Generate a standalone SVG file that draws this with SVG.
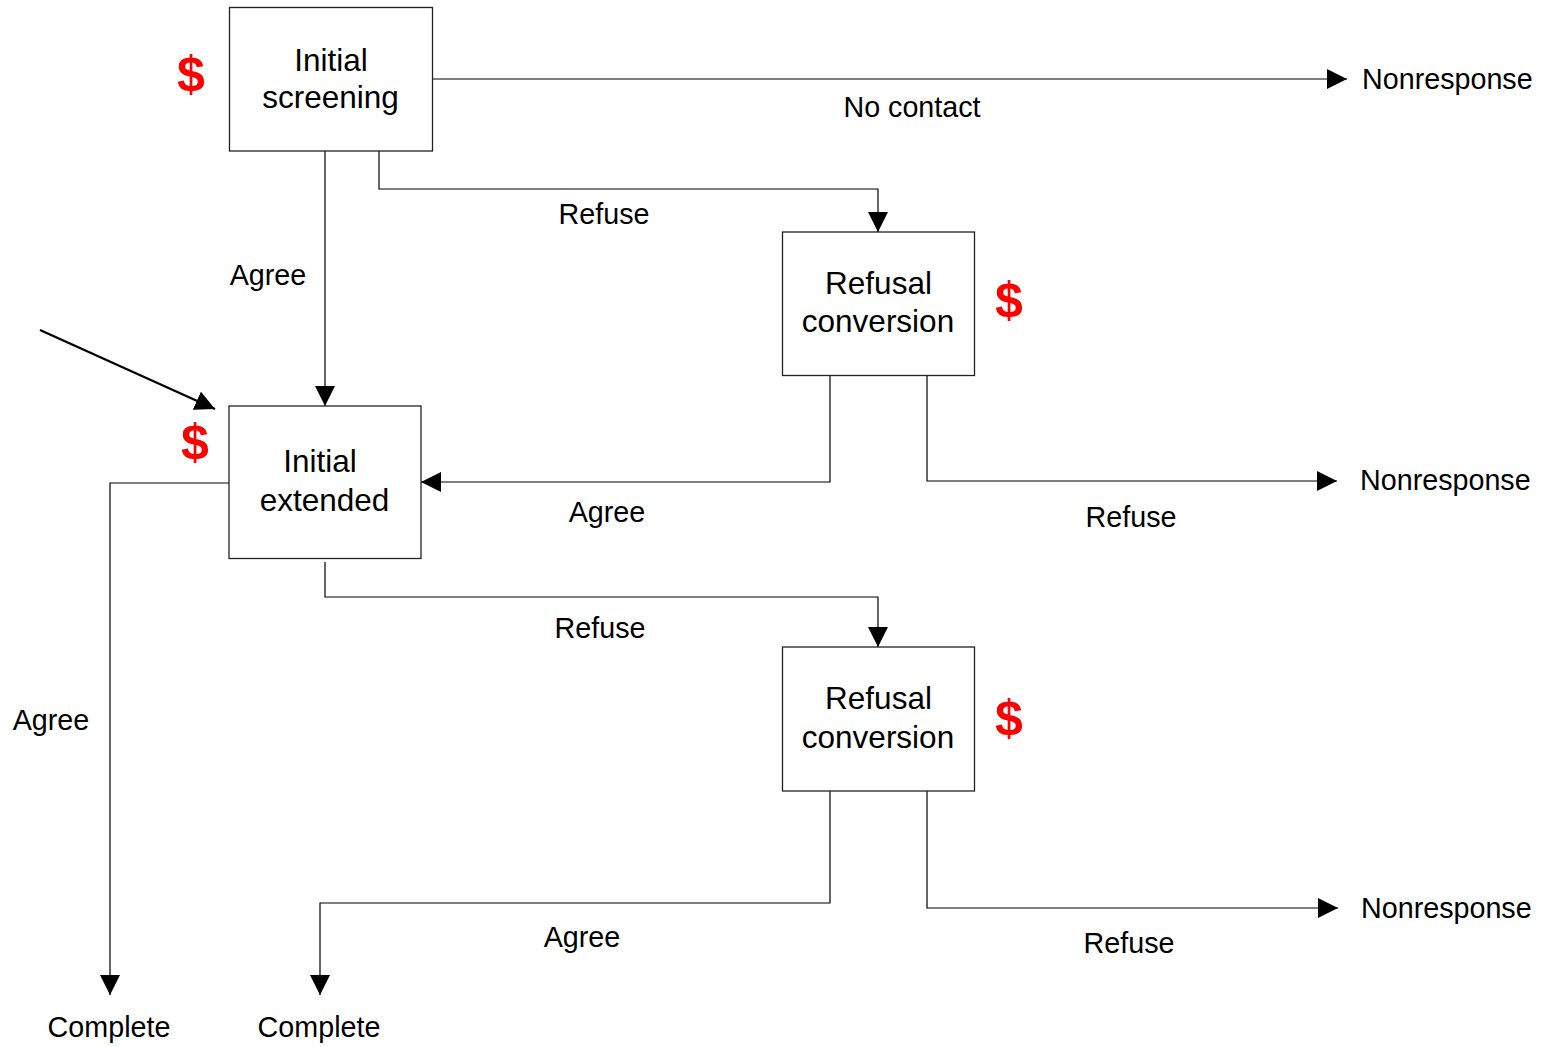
<svg xmlns="http://www.w3.org/2000/svg" width="1545" height="1047" viewBox="0 0 1545 1047">
<defs>
<marker id="ah" viewBox="0 0 20 20" refX="20" refY="10" markerWidth="20" markerHeight="20" markerUnits="userSpaceOnUse" orient="auto">
<path d="M0,0 L20,10 L0,20 z" fill="#000"/>
</marker>
<style>
.box{fill:#fff;stroke:#222;stroke-width:1.3}
.bt{font-family:"Liberation Sans",Arial,sans-serif;font-size:31.5px;fill:#000;text-anchor:middle}
.lb{font-family:"Liberation Sans",Arial,sans-serif;font-size:28.7px;fill:#000;text-anchor:middle}
.ls{font-family:"Liberation Sans",Arial,sans-serif;font-size:28.7px;fill:#000}
.cost{font-family:"Liberation Sans",Arial,sans-serif;font-size:50px;font-weight:bold;fill:#ff0000;text-anchor:middle}
.c{fill:none;stroke:#000;stroke-width:1.2;marker-end:url(#ah)}
</style>
</defs>
<rect width="1545" height="1047" fill="#fff"/>
<g id="connectors">
<path class="c" d="M433,79 H1347"/>
<path class="c" d="M379,151 V189 H878 V232"/>
<path class="c" d="M325,151 V406"/>
<path class="c" d="M40,330 L215,409" style="stroke-width:2.4"/>
<path class="c" d="M830,375 V482 H421"/>
<path class="c" d="M927,375 V481 H1337"/>
<path class="c" d="M229,483 H110 V995"/>
<path class="c" d="M325,562 V597 H878 V647"/>
<path class="c" d="M830,791 V903 H320 V995"/>
<path class="c" d="M927,791 V908 H1338"/>
</g>
<g id="labels">
<text class="lb" x="912" y="117">No contact</text>
<text class="lb" x="604" y="224">Refuse</text>
<text class="lb" x="268" y="285">Agree</text>
<text class="lb" x="607" y="522">Agree</text>
<text class="lb" x="1131" y="527">Refuse</text>
<text class="lb" x="51" y="730">Agree</text>
<text class="lb" x="600" y="638">Refuse</text>
<text class="lb" x="582" y="947">Agree</text>
<text class="lb" x="1129" y="953">Refuse</text>
<text class="ls" x="1362" y="89">Nonresponse</text>
<text class="ls" x="1360" y="490">Nonresponse</text>
<text class="ls" x="1361" y="918">Nonresponse</text>
<text class="lb" x="109" y="1037">Complete</text>
<text class="lb" x="319" y="1037">Complete</text>
</g>
<g id="initial-screening">
<rect class="box" x="229.5" y="7.5" width="203" height="143.5"/>
<text class="bt" x="331" y="70.5">Initial</text>
<text class="bt" x="330.5" y="108">screening</text>
<text class="cost" x="191" y="91">$</text>
</g>
<g id="refusal-conversion-1">
<rect class="box" x="782.5" y="232" width="192" height="143.5"/>
<text class="bt" x="878.5" y="294">Refusal</text>
<text class="bt" x="878" y="332">conversion</text>
<text class="cost" x="1009" y="317">$</text>
</g>
<g id="initial-extended">
<rect class="box" x="229" y="406" width="192" height="152.5"/>
<text class="bt" x="320" y="472">Initial</text>
<text class="bt" x="324.5" y="511">extended</text>
<text class="cost" x="195" y="459">$</text>
</g>
<g id="refusal-conversion-2">
<rect class="box" x="782.5" y="647" width="192" height="144"/>
<text class="bt" x="878.5" y="709">Refusal</text>
<text class="bt" x="878" y="747.5">conversion</text>
<text class="cost" x="1009" y="735">$</text>
</g>
</svg>
